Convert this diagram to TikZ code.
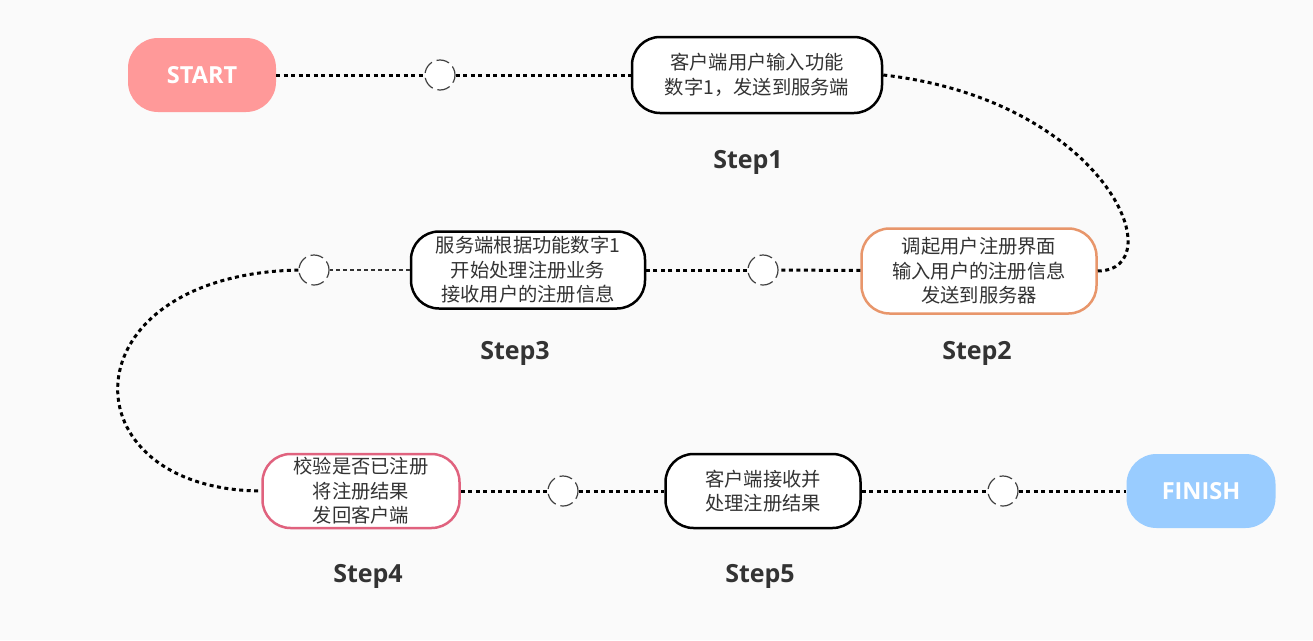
\documentclass[tikz,border=0pt]{standalone}
\usepackage{fontspec}
\setmainfont{Open Sans}
\newfontfamily\cjk{Noto Sans CJK SC}
\definecolor{bg}{HTML}{FAFAFA}
\definecolor{txt}{HTML}{333333}
\definecolor{startc}{HTML}{FF9999}
\definecolor{finishc}{HTML}{99CCFF}
\definecolor{orangec}{HTML}{E8966B}
\definecolor{redc}{HTML}{E0627E}
\begin{document}
\begin{tikzpicture}[x=1pt,y=-1pt,
  term/.style={rounded corners=30pt, inner sep=0pt, text=white, font=\fontsize{23.5}{28}\selectfont\bfseries},
  box/.style={draw, line width=2.5pt, fill=white, rounded corners=28pt, inner sep=0pt, align=center, text=txt,
    font=\cjk\fontsize{19.3}{24.5}\selectfont},
  hole/.style={circle, draw=black!75, fill=white, line width=1.2pt, minimum size=30pt, inner sep=0pt, dash pattern=on 13pt off 5pt, dash phase=4pt},
  steplbl/.style={text=txt, font=\fontsize{25}{29}\selectfont\bfseries},
  link/.style={line width=3pt, dash pattern=on 4pt off 3.5pt},
  thinlink/.style={line width=1.1pt, dash pattern=on 4pt off 3pt, draw=black!80}]
\fill[bg] (0,0) rectangle (1313,640);
\useasboundingbox (0,0) rectangle (1313,640);

\node[term, fill=startc, minimum width=148pt, minimum height=74pt] (start) at (202,75) {START};
\node[hole] (c1) at (440,75) {};
\node[box, minimum width=250pt, minimum height=76pt] (s1) at (757,75) {客户端用户输入功能\\数字1，发送到服务端};
\node[steplbl] (l1) at (748,162) {Step1};

\node[box, draw=orangec, minimum width=235pt, minimum height=85pt] (s2) at (979,271) {调起用户注册界面\\输入用户的注册信息\\发送到服务器};
\node[steplbl] (l2) at (977,353) {Step2};
\node[hole] (c2) at (763,270) {};
\node[box, minimum width=234pt, minimum height=77pt] (s3) at (528,270) {服务端根据功能数字1\\开始处理注册业务\\接收用户的注册信息};
\node[steplbl] (l3) at (515,353) {Step3};
\node[hole] (c3) at (314,270) {};

\node[box, draw=redc, minimum width=197pt, minimum height=74pt] (s4) at (361,491) {校验是否已注册\\将注册结果\\发回客户端};
\node[steplbl] (l4) at (368,576) {Step4};
\node[hole] (c4) at (563,491) {};
\node[box, minimum width=195pt, minimum height=74pt] (s5) at (763,491) {客户端接收并\\处理注册结果};
\node[steplbl] (l5) at (760,576) {Step5};
\node[hole] (c5) at (1003,491) {};
\node[term, fill=finishc, minimum width=149pt, minimum height=74pt] (finish) at (1201,491) {FINISH};

\draw[link] (start) -- (c1);
\draw[link] (c1) -- (s1);
\draw[link] (s1.east) .. controls (1105,100) and (1175,270) .. (s2.east);
\draw[link] (s2) -- (c2);
\draw[link] (c2) -- (s3);
\draw[thinlink] (s3) -- (c3);
\draw[link] (c3.west) .. controls (64,275) and (64,490) .. (s4.west);
\draw[link] (s4) -- (c4);
\draw[link] (c4) -- (s5);
\draw[link] (s5) -- (c5);
\draw[link] (c5) -- (finish);
\end{tikzpicture}
\end{document}
